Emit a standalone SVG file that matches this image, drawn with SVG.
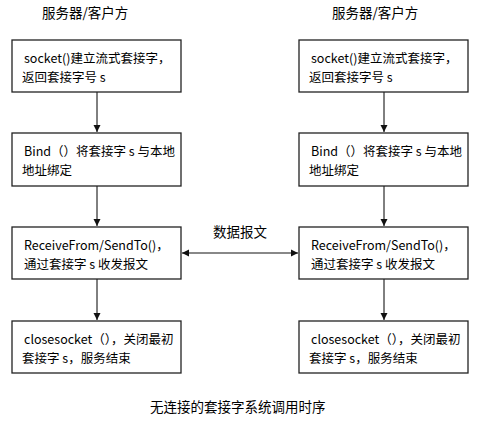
<svg xmlns="http://www.w3.org/2000/svg" width="489" height="425" viewBox="0 0 489 425">
<style>
.box{fill:#fff;stroke:#222;stroke-width:1.3}
.t{font-family:"Noto Sans CJK SC","Liberation Sans",sans-serif;font-size:12.5px;fill:#000}
.h{font-family:"Noto Sans CJK SC","Liberation Sans",sans-serif;font-size:13.5px;fill:#000}
.c{stroke:#000;stroke-width:1;fill:none}
.d{stroke:#888;stroke-width:2;fill:none}
</style>
<defs>
<marker id="ah" markerWidth="8" markerHeight="8" refX="7" refY="4" orient="auto" markerUnits="userSpaceOnUse">
<path d="M0,0.5 L7,4 L0,7.5 Z" fill="#111"/>
</marker>
<marker id="ahs" markerWidth="8" markerHeight="8" refX="1" refY="4" orient="auto" markerUnits="userSpaceOnUse">
<path d="M8,0.5 L1,4 L8,7.5 Z" fill="#111"/>
</marker>
</defs>
<rect width="489" height="425" fill="#fff"/>
<text class="h" x="42" y="18">服务器/客户方</text>
<text class="h" x="332" y="18">服务器/客户方</text>
<g id="connectors">
<line class="c" x1="97" y1="92" x2="97" y2="132" marker-end="url(#ah)"/>
<line class="c" x1="97" y1="186" x2="97" y2="226" marker-end="url(#ah)"/>
<line class="c" x1="97" y1="279" x2="97" y2="320" marker-end="url(#ah)"/>
<line class="c" x1="384" y1="92" x2="384" y2="132" marker-end="url(#ah)"/>
<line class="c" x1="384" y1="186" x2="384" y2="226" marker-end="url(#ah)"/>
<line class="c" x1="384" y1="279" x2="384" y2="320" marker-end="url(#ah)"/>
<line class="d" x1="182" y1="253" x2="298" y2="253" marker-start="url(#ahs)" marker-end="url(#ah)"/>
<text class="h" x="213" y="237">数据报文</text>
</g>
<g id="socket-left">
<rect class="box" x="12" y="40" width="169" height="52"/>
<text class="t" x="24" y="63">socket()建立流式套接字，</text>
<text class="t" x="22" y="82">返回套接字号 s</text>
</g>
<g id="bind-left">
<rect class="box" x="12" y="133" width="169" height="53"/>
<text class="t" x="24" y="156">Bind（）将套接字 s 与本地</text>
<text class="t" x="22" y="175">地址绑定</text>
</g>
<g id="recv-left">
<rect class="box" x="12" y="227" width="169" height="52"/>
<text class="t" x="24" y="250">ReceiveFrom/SendTo()，</text>
<text class="t" x="24" y="269">通过套接字 s 收发报文</text>
</g>
<g id="close-left">
<rect class="box" x="12" y="321" width="169" height="52"/>
<text class="t" x="24" y="344">closesocket（），关闭最初</text>
<text class="t" x="22" y="363">套接字 s，服务结束</text>
</g>
<g id="socket-right">
<rect class="box" x="299" y="40" width="169" height="52"/>
<text class="t" x="311" y="63">socket()建立流式套接字，</text>
<text class="t" x="309" y="82">返回套接字号 s</text>
</g>
<g id="bind-right">
<rect class="box" x="299" y="133" width="169" height="53"/>
<text class="t" x="311" y="156">Bind（）将套接字 s 与本地</text>
<text class="t" x="309" y="175">地址绑定</text>
</g>
<g id="recv-right">
<rect class="box" x="299" y="227" width="169" height="52"/>
<text class="t" x="311" y="250">ReceiveFrom/SendTo()，</text>
<text class="t" x="311" y="269">通过套接字 s 收发报文</text>
</g>
<g id="close-right">
<rect class="box" x="299" y="321" width="169" height="52"/>
<text class="t" x="311" y="344">closesocket（），关闭最初</text>
<text class="t" x="309" y="363">套接字 s，服务结束</text>
</g>
<text class="h" x="150" y="412">无连接的套接字系统调用时序</text>
</svg>
